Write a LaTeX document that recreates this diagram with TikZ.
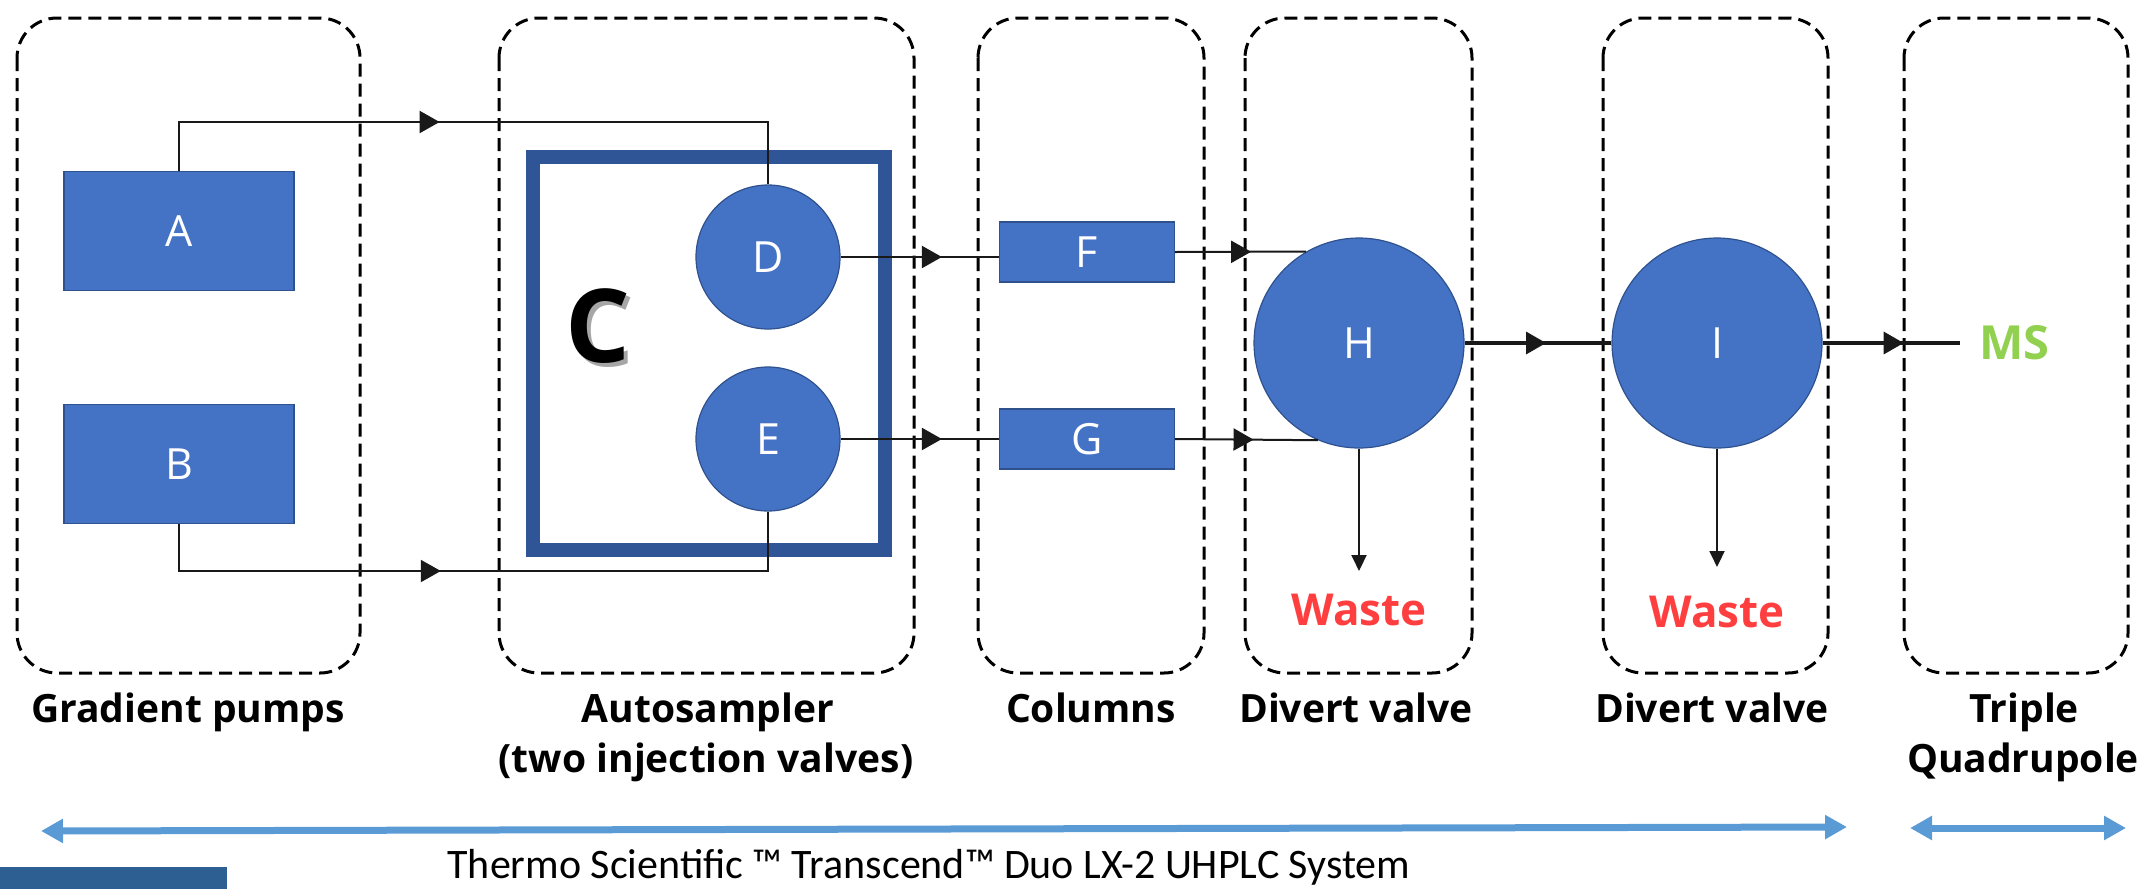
\documentclass[tikz,border=0pt]{standalone}
\usepackage{fontspec}
\setmainfont{Open Sans}
\newfontfamily\calib{Carlito}
\usetikzlibrary{arrows.meta,decorations.markings}
\definecolor{blueF}{HTML}{4472C4}
\definecolor{blueB}{HTML}{2F528F}
\definecolor{frameC}{HTML}{2F5597}
\definecolor{msgreen}{HTML}{92D050}
\definecolor{wastered}{HTML}{FF3F3F}
\definecolor{arrblue}{HTML}{5B9BD5}
\definecolor{botblue}{HTML}{2D5F92}
\begin{document}
\begin{tikzpicture}[x=0.5pt,y=-0.5pt,
  grp/.style={draw=black,line width=1.5pt,dash pattern=on 6.5pt off 3.5pt,rounded corners=20pt},
  pump/.style={rectangle,draw=blueB,line width=0.6pt,fill=blueF,inner sep=0pt,text=white,font=\fontsize{21.5}{25}\selectfont},
  valve/.style={circle,draw=blueB,line width=0.6pt,fill=blueF,inner sep=0pt,text=white,font=\fontsize{21.5}{25}\selectfont},
  lab/.style={anchor=base,font=\bfseries\fontsize{19.5}{25}\selectfont},
  conn/.style={draw=black!90,line width=1pt},
  thickconn/.style={draw=black!90,line width=1.6pt},
  midarrow/.style={postaction={decorate},decoration={markings,mark=at position #1 with {\arrow{Triangle[length=10pt,width=11pt]}}}},
  downarr/.style={draw=black!90,line width=1pt,-{Triangle[length=8pt,width=7.5pt]}},
  bigarr/.style={draw=arrblue,line width=3.5pt,{Triangle[length=11pt,width=11.5pt]}-{Triangle[length=11pt,width=11.5pt]}}
]
\useasboundingbox (0,0) rectangle (2145,889);

% dashed group boxes
\draw[grp] (17,18) rectangle (360,673);
\draw[grp] (499,18) rectangle (914,673);
\draw[grp] (978,18) rectangle (1204,673);
\draw[grp] (1245,18) rectangle (1472,673);
\draw[grp] (1603,18) rectangle (1828,673);
\draw[grp] (1904,18) rectangle (2128,673);

% pumps
\node[pump,minimum width=115pt,minimum height=59.5pt] (A) at (179,231) {A};
\node[pump,minimum width=115pt,minimum height=59.5pt] (B) at (179,464) {B};

% autosampler frame
\node[draw=frameC,line width=7pt,minimum width=176pt,minimum height=196.5pt,inner sep=0pt] (Cbox) at (709,353.5) {};
\node[text=black!35,font=\bfseries\fontsize{51}{51}\selectfont] (Cshadow) at (602,330) {C};
\node[text=black,font=\bfseries\fontsize{51}{51}\selectfont] (Clab) at (598,326) {C};

% injection valves
\node[valve,minimum size=72pt] (D) at (768,257) {D};
\node[valve,minimum size=72pt] (E) at (768,439) {E};

% columns
\node[pump,minimum width=87.5pt,minimum height=30pt] (F) at (1087,252) {F};
\node[pump,minimum width=87.5pt,minimum height=30pt] (G) at (1087,439) {G};

% divert valves
\node[valve,minimum size=105pt] (H) at (1359,343) {H};
\node[valve,minimum size=105pt] (I) at (1717,343) {I};

% MS
\node[anchor=west,inner xsep=9.5pt,inner ysep=0pt,text=msgreen,font=\bfseries\fontsize{23.5}{25}\selectfont] (MS) at (1960,343) {MS};

% waste
\node[anchor=base,text=wastered,font=\bfseries\fontsize{22}{25}\selectfont] (WH) at (1359,625) {Waste};
\node[anchor=base,text=wastered,font=\bfseries\fontsize{22}{25}\selectfont] (WI) at (1717,627) {Waste};

% connectors
\coordinate (Atop) at (768,122);
\coordinate (Bbot) at (768,571);
\draw[conn,midarrow=0.442] (A.north) |- (Atop) -- (D.north);
\draw[conn,midarrow=0.444] (B.south) |- (Bbot) -- (E.south);
\draw[conn,midarrow=0.64] (D.east) -- (D.east -| F.west);
\draw[conn,midarrow=0.64] (E.east) -- (E.east -| G.west);
\draw[conn,midarrow=0.58] (F.east) -- (H.120);
\draw[conn,midarrow=0.55] (G.east) -- (H.247);
\draw[thickconn,midarrow=0.555] (H.east) -- (I.west);
\draw[thickconn,midarrow=0.59] (I.east) -- (MS.west);
\coordinate (HW) at (1359,571);
\coordinate (IW) at (1717,567);
\draw[downarr] (H.south) -- (HW);
\draw[downarr] (I.south) -- (IW);

% labels
\node[lab] (L1) at (188,722) {Gradient pumps};
\node[lab] (L2a) at (708,722) {Autosampler};
\node[lab] (L2b) at (706,772) {(two injection valves)};
\node[lab] (L3) at (1091,722) {Columns};
\node[lab] (L4) at (1356,722) {Divert valve};
\node[lab] (L5) at (1712,722) {Divert valve};
\node[lab] (L6a) at (2024,722) {Triple};
\node[lab] (L6b) at (2023,772) {Quadrupole};

% bottom arrows
\coordinate (S1) at (41,831);
\coordinate (S2) at (1847,827);
\coordinate (Q1) at (1910,828);
\coordinate (Q2) at (2126,828);
\draw[bigarr] (S1) -- (S2);
\draw[bigarr] (Q1) -- (Q2);

\fill[botblue] (0,867) rectangle (227,889);
\node[anchor=base,font=\calib\fontsize{21}{25}\selectfont] (sys) at (929,878) {Thermo Scientific ™ Transcend™ Duo LX-2 UHPLC System};
\end{tikzpicture}
\end{document}
